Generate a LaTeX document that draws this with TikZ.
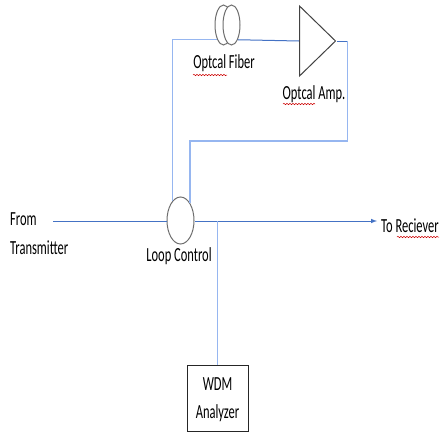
\documentclass[tikz,border=0pt]{standalone}
\usepackage{fontspec}
\setmainfont{Carlito}
\usetikzlibrary{shapes.geometric,decorations.pathmorphing}
\definecolor{mainblue}{RGB}{68,114,196}
\definecolor{paleblue}{RGB}{150,182,240}
\definecolor{ringgray}{RGB}{110,110,110}
\tikzset{
  lbl/.style={font=\fontsize{20}{24}\selectfont, inner sep=0pt, xscale=0.625, transform shape},
  ring/.style={ellipse, draw=ringgray, fill=white, line width=1pt, inner sep=0pt},
  sigline/.style={draw=mainblue, line width=1pt},
  paleline/.style={draw=paleblue, line width=1.5pt},
  squiggle/.style={draw=red!80!black, line width=0.5pt, decorate, decoration={snake, amplitude=0.7pt, segment length=3pt}}
}
\begin{document}
\begin{tikzpicture}[x=1pt,y=-1pt]
  \useasboundingbox (0,0) rectangle (440,432);
  % Nodes
  \node[ring, minimum width=27pt, minimum height=47pt] (loop) at (180.5,220.5) {};
  \node[ring, minimum width=17pt, minimum height=40pt] (fiberA) at (223.5,25) {};
  \node[ring, minimum width=17pt, minimum height=40pt] (fiberB) at (231.5,25) {};
  \node[isosceles triangle, isosceles triangle stretches, draw=ringgray!60!black, line width=1pt, inner sep=0pt,
        minimum width=70pt, minimum height=36pt, anchor=lower side] (amp) at (299,41) {};
  \node[draw=black!85, line width=1pt, minimum width=61pt, minimum height=66pt, inner sep=0pt] (wdm) at (217.5,398) {};
  \node[lbl] (wdmA) at (217.5,384) {WDM};
  \node[lbl] (wdmB) at (217.5,413) {Analyzer};
  \node[lbl] (fiberlbl) at (224,63) {Optcal Fiber};
  \node[lbl] (amplbl) at (314,94) {Optcal Amp.};
  \node[lbl] (looplbl) at (179,256) {Loop Control};
  \node[lbl, anchor=west] (from) at (10,219) {From};
  \node[lbl, anchor=west] (trans) at (10,248) {Transmitter};
  \node[lbl, anchor=west] (recv) at (381,226) {To Reciever};
  \coordinate (start) at (53,221);
  \coordinate (tip) at (377,221);
  \coordinate (tee) at (217.5,221);
  \coordinate (ampout) at (347.5,41);
  \coordinate (back) at (347.5,141);

  % Edges
  \draw[sigline] (start) -- (loop.west |- start);
  \draw[sigline, -latex] (loop.east |- tip) -- (tip);
  \draw[paleline] (tee) -- (wdm.north);
  \draw[paleline] (loop.112) |- (fiberA.247);
  \draw[sigline] (fiberB.293) -- (amp.lower side);
  \draw[sigline] (amp.apex) -- (ampout);
  \draw[paleline] (ampout) -- (back);
  \draw[paleline] (back) -| (loop.61);

  % Underlines
  \coordinate (u1a) at (193,75);
  \coordinate (u1b) at (227,75);
  \coordinate (u2a) at (283,104);
  \coordinate (u2b) at (315,104);
  \coordinate (u3a) at (397,237);
  \coordinate (u3b) at (439,237);
  \draw[squiggle] (u1a) -- (u1b);
  \draw[squiggle] (u2a) -- (u2b);
  \draw[squiggle] (u3a) -- (u3b);
\end{tikzpicture}
\end{document}
